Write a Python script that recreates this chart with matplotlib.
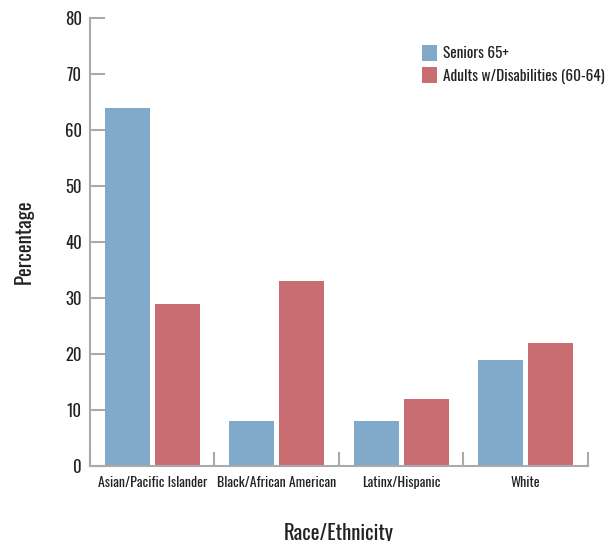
import numpy as np
import matplotlib
matplotlib.use('Agg')
import matplotlib.pyplot as plt
from matplotlib import font_manager

names = {f.name for f in font_manager.fontManager.ttflist}
fam = 'DejaVu Sans'
for cand in ['Oswald', 'Roboto Condensed', 'Fjalla One', 'Archivo Narrow', 'Liberation Sans Narrow']:
    if cand in names:
        fam = cand
        break
plt.rcParams['font.family'] = [fam, 'DejaVu Sans']
plt.rcParams['font.weight'] = 300

categories = ['Asian/Pacific Islander', 'Black/African American', 'Latinx/Hispanic', 'White']
seniors = [64, 8, 8, 19]
adults = [29, 33, 12, 22]
series_names = ['Seniors 65+', 'Adults w/Disabilities (60-64)']
yticks = [0, 10, 20, 30, 40, 50, 60, 70, 80]

blue = '#80a9ca'
red = '#c96d72'
grey = '#aaaaaa'
txt = '#222222'

fig = plt.figure(figsize=(6.11, 5.41), dpi=100)
ax = fig.add_axes([0.1473, 0.1386, 0.815, 0.828])

x = np.arange(len(categories))
w = 0.36
ax.bar(x - 0.2, seniors, w, color=blue, label=series_names[0])
ax.bar(x + 0.2, adults, w, color=red, label=series_names[1])

ax.set_xlim(-0.5, len(categories) - 0.5)
ax.set_ylim(0, 80)
ax.set_yticks(yticks)
ax.set_xticks(x)
ax.set_xticklabels(categories)
ax.set_xticks(np.arange(len(categories) + 1) - 0.5, minor=True)

for s in ['top', 'right']:
    ax.spines[s].set_visible(False)
for s in ['left', 'bottom']:
    ax.spines[s].set_color(grey)
    ax.spines[s].set_linewidth(1.5)

ax.tick_params(axis='y', direction='in', length=11, width=1.5, color=grey,
               labelsize=12, labelcolor=txt, pad=6)
ax.tick_params(axis='x', which='major', length=0, labelsize=10, labelcolor=txt, pad=7)
ax.tick_params(axis='x', which='minor', direction='in', length=10, width=1.5, color=grey)

ax.set_xlabel('Race/Ethnicity', fontsize=15, color=txt, labelpad=25)
ax.set_ylabel('Percentage', fontsize=15, color=txt, labelpad=22)

leg = ax.legend(loc='upper right', bbox_to_anchor=(1.062, 0.97), frameon=False,
                fontsize=11, handlelength=1.0, handleheight=1.2,
                handletextpad=0.4, labelspacing=0.4)
for t in leg.get_texts():
    t.set_color(txt)

fig.savefig('out.png', dpi=100)
